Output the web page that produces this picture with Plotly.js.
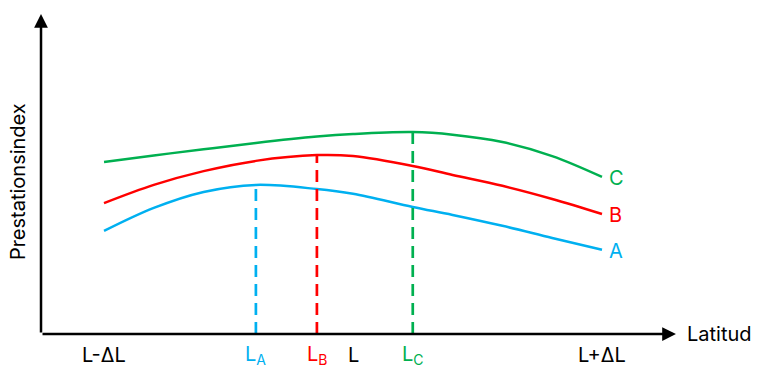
<!DOCTYPE html>
<html><head><meta charset="utf-8">
<script src="https://cdn.plot.ly/plotly-3.0.1.min.js"></script>
<style>html,body{margin:0;padding:0;background:#fff}#chart{width:768px;height:382px}</style>
</head><body><div id="chart"></div>
<script>
// Latitude positions (L-ΔL = -1, L = 0, L+ΔL = 1)
const lat = [-1, -0.8, -0.6, -0.39, -0.145, 0, 0.24, 0.4, 0.6, 0.8, 1];
// Performance index for each species
const seriesA = [3.22, 3.94, 4.44, 4.66, 4.53, 4.38, 3.97, 3.72, 3.38, 3.0, 2.63];
const seriesB = [4.09, 4.66, 5.09, 5.41, 5.59, 5.56, 5.25, 4.97, 4.63, 4.22, 3.75];
const seriesC = [5.375, 5.58, 5.77, 5.97, 6.17, 6.25, 6.31, 6.23, 6.0, 5.56, 4.91];
const seriesNames = ['A', 'B', 'C'];
const seriesColors = ['#00B0F0', '#FF0000', '#00B050'];
// Optimum latitude index in lat[] for each series
const optIndex = [3, 4, 6];
// Tick labels along the latitude axis
const tickPos = [-1, -0.39, -0.145, 0, 0.24, 1];
const tickText = ['L-ΔL', 'L<sub>A</sub>', 'L<sub>B</sub>', 'L', 'L<sub>C</sub>', 'L+ΔL'];
const tickColors = ['#000000', '#00B0F0', '#FF0000', '#000000', '#00B050', '#000000'];

const FONT = 'Inter, sans-serif';
const FS = 20;
const allSeries = [seriesA, seriesB, seriesC];
const traces = [];
allSeries.forEach((s, i) => {
  traces.push({x: lat, y: s, mode: 'lines', line: {color: seriesColors[i], width: 2.5, shape: 'spline', smoothing: 1}, hoverinfo: 'skip'});
});
allSeries.forEach((s, i) => {
  const k = optIndex[i];
  traces.push({x: [lat[k], lat[k]], y: [0, s[k]], mode: 'lines', line: {color: seriesColors[i], width: 2.7, dash: '12px,7px'}, hoverinfo: 'skip'});
});

const ann = [];
// axes arrows
ann.push({x: 1.297, y: 0, ax: -1.253, ay: 0, xref: 'x', yref: 'y', axref: 'x', ayref: 'y', text: '', showarrow: true, arrowhead: 2, arrowsize: 1.1, arrowwidth: 2.5, arrowcolor: '#000', standoff: 0, startstandoff: 0});
ann.push({x: -1.253, y: 10, ax: -1.253, ay: 0, xref: 'x', yref: 'y', axref: 'x', ayref: 'y', text: '', showarrow: true, arrowhead: 2, arrowsize: 1.1, arrowwidth: 2.5, arrowcolor: '#000', standoff: 0, startstandoff: 0});
// tick labels
tickPos.forEach((p, i) => {
  ann.push({x: p, y: -0.66, xref: 'x', yref: 'y', text: tickText[i], showarrow: false, font: {family: FONT, size: FS, color: tickColors[i]}, xanchor: 'center', yanchor: 'middle'});
});
// series labels
allSeries.forEach((s, i) => {
  ann.push({x: 1.02, y: s[s.length - 1] - 0.03, xref: 'x', yref: 'y', text: seriesNames[i], showarrow: false, font: {family: FONT, size: FS, color: seriesColors[i]}, xanchor: 'left', yanchor: 'middle'});
});
ann.push({x: 1.335, y: 0, xref: 'x', yref: 'y', text: 'Latitud', showarrow: false, font: {family: FONT, size: FS, color: '#000'}, xanchor: 'left', yanchor: 'middle'});
ann.push({x: -1.345, y: 4.75, xref: 'x', yref: 'y', text: 'Prestationsindex', textangle: -90, showarrow: false, font: {family: FONT, size: FS, color: '#000'}, xanchor: 'center', yanchor: 'middle'});

const layout = {
  width: 768, height: 382,
  margin: {l: 0, r: 0, t: 0, b: 0},
  paper_bgcolor: '#fff', plot_bgcolor: '#fff',
  showlegend: false,
  xaxis: {range: [-1.4177, 1.6667], visible: false, fixedrange: true},
  yaxis: {range: [-1.5, 10.4375], visible: false, fixedrange: true},
  annotations: ann
};
Plotly.newPlot('chart', traces, layout, {staticPlot: true, displayModeBar: false});
</script></body></html>
